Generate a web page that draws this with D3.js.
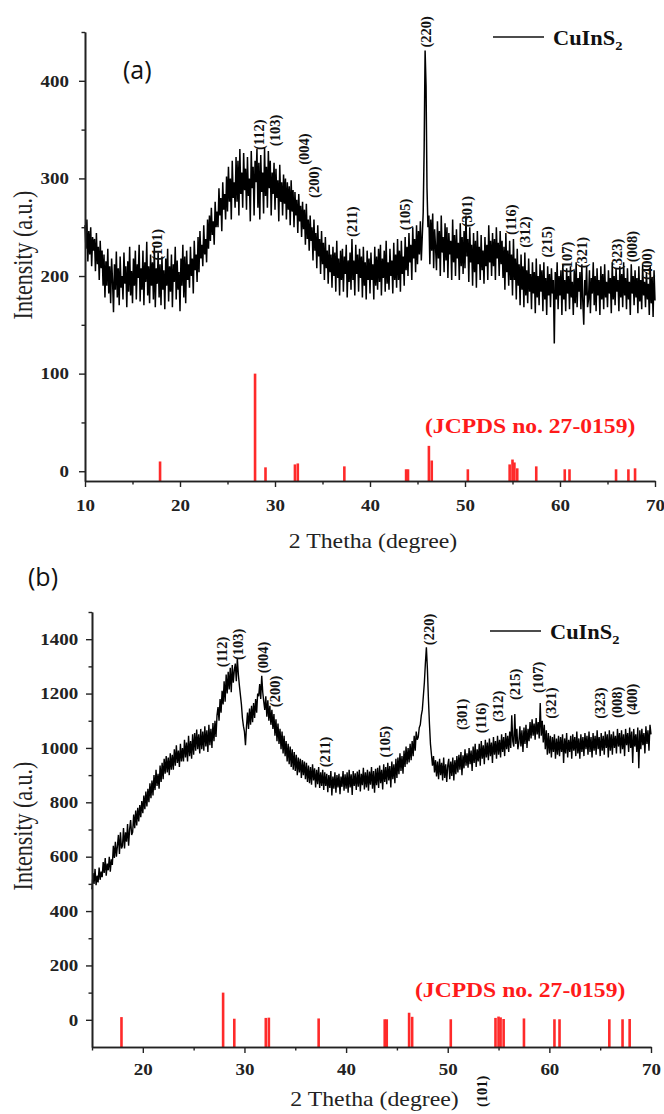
<!DOCTYPE html>
<html>
<head>
<meta charset="utf-8">
<script src="https://cdnjs.cloudflare.com/ajax/libs/d3/7.8.5/d3.min.js"></script>
<style>
  body { margin: 0; background: #fff; }
  svg { display: block; }
</style>
</head>
<body>
<div id="chart"></div>
<script>
// ---- data ----
// XRD scan (a): 2theta from 10 to 70, one value every 0.1 deg (one row per degree)
const stepA = 0.1, startA = 10;
const countsA = [
  252,228,258,215,246,222,250,210,240,226, // 10
  238,205,244,212,230,196,236,208,226,190, // 11
  222,178,215,190,228,182,210,172,218,195, // 12
  163,212,186,225,178,208,170,220,188,200, // 13
  176,224,192,210,168,215,184,230,180,205, // 14
  172,218,190,226,176,212,198,232,174,208, // 15
  186,226,170,214,194,235,180,210,172,222, // 16
  190,214,176,230,168,208,192,224,178,212, // 17
  170,220,186,206,166,218,190,228,174,210, // 18
  184,222,168,212,194,230,176,216,186,204, // 19
  164,218,190,232,178,220,172,226,196,212, // 20
  188,230,200,218,182,236,206,222,194,240, // 21
  204,246,218,232,210,252,222,238,214,258, // 22
  228,262,236,270,242,256,232,276,250,266, // 23
  250,290,262,280,246,296,268,284,258,302, // 24
  266,312,276,300,258,318,280,296,270,322, // 25
  276,318,262,330,284,306,270,326,288,310, // 26
  268,322,282,300,256,328,290,312,262,318, // 27
  296,330,270,316,258,324,286,306,264,332, // 28
  282,312,270,328,290,318,262,306,284,316, // 29
  268,310,280,298,256,314,276,296,262,304, // 30
  274,300,258,296,268,292,252,298,266,288, // 31
  250,286,262,278,244,284,256,272,240,276, // 32
  248,268,232,274,238,258,226,262,236,250, // 33
  216,258,226,244,208,252,220,238,202,246, // 34
  212,234,196,240,208,226,192,232,204,222, // 35
  188,230,200,224,184,236,198,218,180,226, // 36
  196,228,184,220,202,232,178,216,194,224, // 37
  186,238,196,216,180,232,202,222,184,228, // 38
  198,220,178,230,190,214,176,226,196,218, // 39
  182,224,196,212,176,230,190,220,186,228, // 40
  194,232,180,218,198,226,184,236,192,214, // 41
  186,228,200,216,182,234,196,222,188,238, // 42
  196,226,184,236,202,220,190,240,206,230, // 43
  200,244,214,232,196,250,218,238,204,252, // 44
  212,246,222,256,216,240,265,330,431,395, // 45
  290,250,262,212,258,226,264,208,248,230, // 46
  206,256,218,246,200,262,224,240,204,254, // 47
  216,250,198,244,222,236,196,258,214,242, // 48
  200,248,218,234,196,254,210,240,202,246, // 49
  208,262,220,238,194,250,214,232,190,244, // 50
  204,236,188,246,212,230,196,242,206,226, // 51
  192,240,210,232,196,252,214,236,200,244, // 52
  210,238,196,250,218,234,200,246,212,236, // 53
  198,230,186,244,204,226,190,236,196,222, // 54
  180,238,196,218,176,228,190,212,170,222, // 55
  186,210,168,224,180,206,172,218,184,202, // 56
  166,214,182,204,162,218,178,200,170,212, // 57
  184,206,164,214,176,198,160,210,180,202, // 58
  168,208,182,196,131,204,176,214,166,200, // 59
  180,206,160,212,176,196,164,208,182,200, // 60
  166,210,178,194,160,206,172,214,168,198, // 61
  184,204,166,212,174,150,196,180,210,168, // 62
  176,206,162,198,182,214,170,200,164,208, // 63
  180,196,160,210,176,202,166,212,178,194, // 64
  168,206,182,198,162,214,176,200,170,208, // 65
  184,196,164,210,178,202,168,214,180,198, // 66
  166,208,176,194,160,212,182,200,170,206, // 67
  178,198,162,210,174,196,166,212,180,194, // 68
  168,204,176,192,160,210,172,198,158,206, // 69
  175                                      // 70
];

// XRD scan (b): 2theta from 15 to 70, one value every 0.1 deg
const stepB = 0.1, startB = 15;
const countsB = [
  480,540,500,555,495,530,505,560,515,545, // 15
  525,580,540,595,530,575,550,600,545,590, // 16
  570,640,595,655,600,640,680,610,690,630, // 17
  640,705,630,690,655,720,640,700,735,680, // 18
  690,755,705,770,715,780,730,790,745,805, // 19
  760,825,775,840,785,850,800,870,815,880, // 20
  825,900,845,920,860,905,850,935,875,945, // 21
  885,960,905,970,910,965,900,980,920,975, // 22
  920,995,935,1010,945,990,930,1015,950,1000, // 23
  950,1030,965,1020,950,1045,970,1025,960,1050, // 24
  975,1055,990,1068,995,1050,980,1070,995,1060, // 25
  990,1080,1005,1065,985,1085,1010,1070,1000,1092, // 26
  1025,1100,1040,1120,1150,1100,1180,1130,1210,1160, // 27
  1245,1170,1270,1200,1280,1215,1295,1205,1305,1240, // 28
  1285,1310,1245,1330,1270,1230,1195,1160,1110,1080, // 29
  1060,1010,1080,1130,1070,1145,1085,1155,1095,1165, // 30
  1110,1180,1130,1200,1190,1235,1180,1265,1205,1170, // 31
  1140,1190,1115,1175,1100,1155,1085,1140,1070,1125, // 32
  1045,1105,1025,1090,1015,1070,995,1060,980,1045, // 33
  970,1025,950,1015,940,1005,930,995,920,985, // 34
  915,975,900,965,910,960,890,955,900,950, // 35
  885,945,875,935,870,930,865,940,880,925, // 36
  855,920,867,930,853,910,860,920,845,910, // 37
  860,905,837,900,853,915,825,895,850,910, // 38
  835,900,855,905,830,895,857,915,843,903, // 39
  850,910,835,920,855,903,827,915,860,907, // 40
  845,913,857,920,840,905,863,927,847,910, // 41
  855,920,843,913,865,930,850,915,835,923, // 42
  863,927,853,935,870,920,847,940,875,930, // 43
  867,945,880,933,855,950,885,940,870,960, // 44
  890,965,903,980,915,970,905,990,930,1005, // 45
  940,1000,947,1015,955,1025,970,1045,990,1060, // 46
  1030,1040,1075,1085,1120,1140,1190,1240,1310,1370, // 47
  1290,1180,1090,1015,975,935,970,910,955,895, // 48
  950,885,960,900,945,880,965,890,940,875, // 49
  935,960,885,950,897,965,880,955,903,970, // 50
  910,975,920,985,900,973,925,995,935,980, // 51
  927,1000,940,990,915,1005,945,1015,930,995, // 52
  950,1015,935,1025,960,1010,940,1030,965,1020, // 53
  955,1035,970,1020,945,1040,975,1025,960,1045, // 54
  975,1030,965,1050,985,1040,970,1055,995,1045, // 55
  985,1060,1000,1120,1025,1005,1125,1015,1070,995, // 56
  1020,1080,1005,1065,985,1075,1015,1085,1000,1070, // 57
  1025,1095,1035,1105,1045,1090,1030,1110,1050,1095, // 58
  1035,1165,1045,1100,1020,1085,995,1065,975,1055, // 59
  980,1045,965,1040,985,1050,960,1035,975,1045, // 60
  970,1040,985,1050,945,1035,980,1055,965,1030, // 61
  985,1045,960,1050,990,1040,970,1060,980,1035, // 62
  960,1050,985,1040,970,1055,995,1045,975,1060, // 63
  985,1040,965,1055,990,1045,975,1065,995,1040, // 64
  970,1055,990,1045,975,1060,1000,1050,965,1065, // 65
  990,1050,975,1060,1000,1045,980,1070,1005,1055, // 66
  980,1065,995,1050,970,1070,1010,1055,985,1075, // 67
  1000,1060,945,1070,1005,1050,985,1075,925,1065, // 68
  995,1070,1010,1055,980,1080,1015,1065,990,1085, // 69
  1050                                      // 70
];

// JCPDS 27-0159 reference lines
const jcpdsTheta = [17.9, 27.9, 29.0, 32.1, 32.4, 37.3, 43.8, 44.0, 46.2, 46.5, 50.3, 54.7, 55.0, 55.2, 55.5, 57.5, 60.5, 61.0, 65.9, 67.2, 67.9];
const jcpdsInt   = [10, 100, 4, 7, 8, 5, 2, 2, 26, 11, 2, 7, 12, 9, 3, 5, 2, 2, 2, 2, 3];

// peak labels: hkl, 2theta, intensity where the label starts
const hklA   = ["(101)","(112)","(103)","(004)","(200)","(211)","(105)","(220)","(301)","(116)","(312)","(215)","(107)","(321)","(323)","(008)","(400)"];
const hklAx  = [17.6, 28.3, 30.0, 33.0, 34.1, 38.1, 43.7, 45.9, 50.2, 54.8, 56.3, 58.6, 60.7, 62.3, 66.0, 67.6, 69.2];
const hklAy  = [216, 329, 333, 314, 280, 240, 247, 434, 250, 242, 229, 219, 203, 208, 206, 214, 196];

const hklB   = ["(112)","(103)","(004)","(200)","(211)","(105)","(220)","(301)","(116)","(312)","(215)","(107)","(321)","(323)","(008)","(400)","(101)"];
const hklBx  = [27.8, 29.4, 31.8, 33.0, 37.9, 43.8, 48.2, 51.4, 53.3, 54.9, 56.6, 58.9, 60.2, 65.0, 66.7, 68.1, 53.4];
const hklBy  = [1297, 1323, 1275, 1150, 929, 965, 1378, 1066, 1054, 1095, 1176, 1202, 1107, 1107, 1110, 1121, -321];

const yTicksA = [0, 100, 200, 300, 400];
const yTicksB = [0, 200, 400, 600, 800, 1000, 1200, 1400];

// ---- drawing ----
const W = 664, H = 1114;
const SERIF = "'Liberation Serif', 'Times New Roman', serif";
const svg = d3.select("#chart").append("svg").attr("width", W).attr("height", H);

// horizontal text in the source is a bit stretched
function hText(g, x, y, str, size, weight, sx) {
  return g.append("text")
    .attr("transform", `translate(${x},${y}) scale(${sx},1)`)
    .style("font-family", SERIF)
    .attr("font-size", size)
    .attr("font-weight", weight)
    .text(str);
}

function drawPanel(p) {
  const g = svg.append("g");
  const x = d3.scaleLinear().domain(p.xDomain).range([p.left, p.right]);
  const y = d3.scaleLinear().domain(p.yDomain).range([p.bottom, p.top]);

  // JCPDS sticks, drawn up from the bottom of the axis
  g.selectAll("rect.stick")
    .data(jcpdsTheta.map((t, i) => ({ t, v: jcpdsInt[i] })))
    .enter().append("rect")
    .attr("x", d => x(d.t) - 1.3)
    .attr("width", 2.6)
    .attr("y", d => y(d.v))
    .attr("height", d => y(p.yDomain[0]) - y(d.v))
    .attr("fill", "#ff2a2a");

  // pattern
  const pts = p.counts.map((v, i) => [p.start + i * p.step, v]);
  const line = d3.line().x(d => x(d[0])).y(d => y(d[1]));
  g.append("path")
    .datum(pts)
    .attr("d", line)
    .attr("fill", "none")
    .attr("stroke", "#000")
    .attr("stroke-width", p.lineW);

  // axes
  const minorY = d3.range(p.yDomain[0] + p.yMinorOff, p.yDomain[1] + 1, p.yMinorStep).filter(v => !p.yTicks.includes(v));
  const majorX = d3.range(20, 71, 10).concat(p.xDomain[0] === 10 ? [10] : []);
  const minorX = d3.range(15, 70, 10);

  const yAx = g.append("g").attr("transform", `translate(${p.left},0)`)
    .call(d3.axisLeft(y).tickValues(p.yTicks).tickSize(6).tickSizeOuter(0).tickPadding(p.yPad).tickFormat(d3.format("d")));
  g.append("g").attr("transform", `translate(${p.left},0)`)
    .call(d3.axisLeft(y).tickValues(minorY).tickSize(3.5).tickSizeOuter(0).tickFormat(""));
  const xAx = g.append("g").attr("transform", `translate(0,${p.bottom})`)
    .call(d3.axisBottom(x).tickValues(majorX).tickSize(6).tickSizeOuter(0).tickPadding(p.xPad).tickFormat(d3.format("d")));
  g.append("g").attr("transform", `translate(0,${p.bottom})`)
    .call(d3.axisBottom(x).tickValues(minorX).tickSize(3.5).tickSizeOuter(0).tickFormat(""));

  g.selectAll(".domain").attr("stroke", "#222").attr("stroke-width", 1.6);
  g.selectAll(".tick line").attr("stroke", "#222").attr("stroke-width", 1.4);
  [yAx, xAx].forEach(a => a.selectAll("text")
    .style("font-family", SERIF)
    .attr("font-size", 16.5)
    .attr("font-weight", "bold")
    .attr("fill", "#222")
    .attr("transform", "scale(1.15,1)"));

  // axis titles
  hText(g, (p.left + p.right) / 2 + 3, p.xTitleY, "2 Thetha (degree)", 22, "normal", 1.08)
    .attr("text-anchor", "middle").attr("fill", "#222");
  g.append("text")
    .attr("transform", `translate(32,${p.yTitleY}) scale(1.2,1) rotate(-90)`)
    .attr("text-anchor", "middle")
    .style("font-family", SERIF)
    .attr("font-size", 22)
    .attr("fill", "#222")
    .text("Intensity (a.u.)");

  // peak labels
  g.selectAll("text.hkl")
    .data(p.hkl.map((h, i) => ({ h, t: p.hklX[i], v: p.hklY[i] })))
    .enter().append("text")
    .attr("transform", d => `translate(${x(d.t)},${y(d.v)}) rotate(-90)`)
    .attr("dominant-baseline", "central")
    .style("font-family", SERIF)
    .attr("font-size", 14.5)
    .attr("font-weight", "bold")
    .attr("fill", "#111")
    .text(d => d.h);

  // legend
  g.append("line")
    .attr("x1", p.legX).attr("x2", p.legX + 51)
    .attr("y1", p.legY).attr("y2", p.legY)
    .attr("stroke", "#111").attr("stroke-width", 1.6);
  const lt = hText(g, p.legX + 60, p.legY + 8, "CuInS", 20, "bold", 1.12).attr("fill", "#111");
  lt.append("tspan").attr("font-size", 13).attr("dy", 5).text("2");

  // reference card
  hText(g, p.jcX, p.jcY, "(JCPDS no. 27-0159)", 20, "bold", 1.18).attr("fill", "#ff1a1a");

  // panel letter
  g.append("text")
    .attr("x", p.tagX).attr("y", p.tagY)
    .style("font-family", "'Open Sans', 'Liberation Sans', sans-serif")
    .attr("font-size", 25)
    .attr("fill", "#111")
    .text(p.tag);
}

drawPanel({
  counts: countsA, start: startA, step: stepA, lineW: 1.5,
  xDomain: [10, 70], yDomain: [-10, 450],
  left: 85, right: 655, top: 32, bottom: 481,
  yTicks: yTicksA, yMinorStep: 50, yMinorOff: 60, yPad: 8, xPad: 12,
  xTitleY: 548, yTitleY: 255,
  hkl: hklA, hklX: hklAx, hklY: hklAy,
  legX: 493, legY: 37, jcX: 425, jcY: 433,
  tag: "(a)", tagX: 123, tagY: 79
});

drawPanel({
  counts: countsB, start: startB, step: stepB, lineW: 1.4,
  xDomain: [15, 70], yDomain: [-100, 1500],
  left: 92, right: 651, top: 612, bottom: 1047,
  yTicks: yTicksB, yMinorStep: 200, yMinorOff: 200, yPad: 6, xPad: 10,
  xTitleY: 1106, yTitleY: 826,
  hkl: hklB, hklX: hklBx, hklY: hklBy,
  legX: 490, legY: 631, jcX: 415, jcY: 997,
  tag: "(b)", tagX: 28, tagY: 586
});
</script>
</body>
</html>
